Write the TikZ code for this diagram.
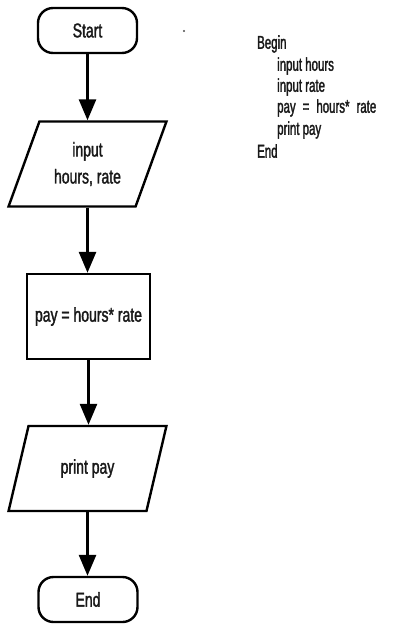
\documentclass[tikz,border=0pt]{standalone}
\usepackage{fontspec}
\usetikzlibrary{shapes.geometric,arrows.meta}
\newfontfamily\narrowsans[FakeStretch=0.70,FakeBold=1.6]{Liberation Sans}
\newfontfamily\codesans[FakeStretch=0.62,FakeBold=1.6]{Liberation Sans}
\begin{document}
\begin{tikzpicture}[x=1pt,y=-1pt,
  every node/.style={font=\narrowsans\fontsize{20}{22}\selectfont, text=black!90, inner sep=0pt},
  terminal/.style={draw=black, line width=2.4pt, rounded corners=15pt, minimum width=99pt, minimum height=45pt},
  io/.style={draw=black, line width=2.4pt, trapezium, trapezium stretches=true,
             trapezium left angle=64, trapezium right angle=116,
             minimum width=158pt, minimum height=85pt, align=center},
  process/.style={draw=black, line width=2.4pt, minimum width=123pt, minimum height=85pt},
  flow/.style={line width=2.8pt, -{Triangle[length=21pt,width=17pt]}},
  code/.style={font=\codesans\fontsize{18.5}{20}\selectfont, anchor=west}
]
\useasboundingbox (0,0) rectangle (396,625);

% flowchart
\node[terminal] (start) at (87.5,30.5) {Start};
\node[io] (input) at (87.5,164) {input\\[5pt]hours, rate};
\node[process] (calc) at (88.5,316.5) {pay = hours* rate};
\node[io] (print) at (87.5,468.5) {print pay};
\node[terminal] (end) at (88,599.5) {End};

\draw[flow] (start.south) -- (start.south |- input.north);
\draw[flow] (input.south) -- (input.south |- calc.north);
\draw[flow] (calc.south) -- (calc.south |- print.north);
\draw[flow] (print.south) -- (print.south |- end.north);

% stray mark
\fill[black!70] (184,31) circle (1.1pt);

% pseudocode
\node[code] (l1) at (257,44) {Begin};
\node[code] (l2) at (277,66) {input hours};
\node[code] (l3) at (277,87) {input rate};
\node[code] (l4) at (277,108) {pay\hspace{7pt}=\hspace{7pt}hours*\hspace{7pt}rate};
\node[code] (l5) at (277,130) {print pay};
\node[code] (l6) at (257,151) {End};
\end{tikzpicture}
\end{document}
